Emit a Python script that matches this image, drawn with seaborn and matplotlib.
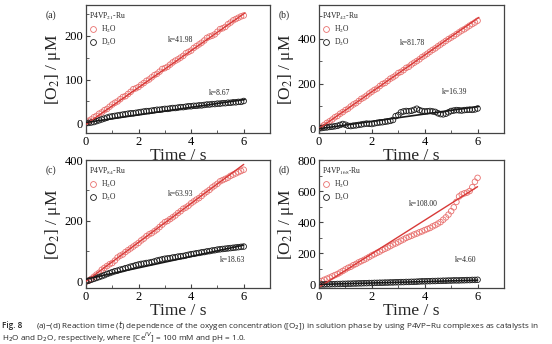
import numpy as np
import pandas as pd
import matplotlib
matplotlib.use("Agg")
import matplotlib.pyplot as plt
from matplotlib.lines import Line2D
from matplotlib.ticker import MultipleLocator
import seaborn as sns

# ---------------- data ----------------
T = [0.0, 0.1, 0.2, 0.3, 0.4, 0.5, 0.6, 0.7, 0.8, 0.9,
     1.0, 1.1, 1.2, 1.3, 1.4, 1.5, 1.6, 1.7, 1.8, 1.9,
     2.0, 2.1, 2.2, 2.3, 2.4, 2.5, 2.6, 2.7, 2.8, 2.9,
     3.0, 3.1, 3.2, 3.3, 3.4, 3.5, 3.6, 3.7, 3.8, 3.9,
     4.0, 4.1, 4.2, 4.3, 4.4, 4.5, 4.6, 4.7, 4.8, 4.9,
     5.0, 5.1, 5.2, 5.3, 5.4, 5.5, 5.6, 5.7, 5.8, 5.9, 6.0]

a_h2o = [3, 6, 9, 14, 17, 22, 25, 30, 33, 38,
         43, 47, 50, 55, 60, 62, 67, 72, 78, 80,
         83, 88, 92, 97, 100, 105, 110, 113, 118, 124,
         126, 129, 134, 139, 143, 146, 150, 154, 160, 163,
         166, 172, 176, 180, 184, 189, 195, 198, 200, 203,
         209, 215, 217, 220, 226, 230, 235, 238, 241, 244, 246]
a_d2o = [0, 1, 2, 3, 5, 7, 9, 11, 13, 15,
         16, 17, 18, 19, 20, 21, 22, 23, 23, 24,
         25, 26, 27, 28, 28, 29, 30, 31, 31, 32,
         33, 33, 34, 35, 35, 36, 37, 37, 38, 39,
         39, 40, 40, 41, 41, 42, 43, 43, 44, 44,
         45, 45, 46, 46, 47, 47, 48, 48, 49, 49, 51]
b_h2o = [2, 8, 16, 25, 32, 40, 50, 56, 66, 73,
         82, 88, 98, 107, 113, 122, 132, 138, 146, 156,
         164, 172, 178, 189, 198, 203, 212, 222, 228, 236,
         247, 252, 260, 270, 275, 285, 293, 300, 308, 318,
         325, 333, 342, 350, 357, 366, 374, 382, 390, 398,
         405, 412, 420, 428, 436, 442, 450, 458, 465, 472, 480]
b_d2o = [0, 2, 4, 5, 7, 8, 10, 12, 16, 20,
         17, 12, 11, 13, 14, 16, 18, 20, 22, 21,
         20, 23, 25, 27, 28, 30, 32, 34, 38, 55,
         60, 72, 76, 78, 77, 79, 83, 88, 82, 78,
         76, 77, 78, 76, 74, 68, 64, 63, 66, 72,
         78, 80, 82, 81, 80, 82, 83, 84, 83, 85, 89]
c_h2o = [0, 4, 10, 17, 24, 30, 40, 46, 52, 58,
         62, 70, 80, 86, 90, 98, 104, 110, 116, 122,
         128, 136, 142, 150, 156, 160, 166, 172, 180, 188,
         196, 200, 206, 212, 218, 226, 232, 240, 244, 250,
         258, 264, 270, 275, 282, 290, 296, 302, 310, 316,
         322, 330, 334, 338, 342, 348, 352, 356, 360, 364, 368]
c_d2o = [2, 4, 7, 10, 13, 16, 19, 22, 26, 29,
         32, 35, 37, 40, 42, 45, 47, 50, 52, 55,
         57, 59, 60, 62, 63, 65, 67, 70, 72, 74,
         76, 77, 78, 80, 81, 83, 84, 85, 87, 89,
         91, 92, 94, 95, 97, 98, 100, 101, 103, 104,
         106, 107, 108, 109, 110, 111, 112, 113, 114, 115, 116]
d_h2o = [10, 20, 28, 35, 42, 50, 58, 65, 75, 85,
         95, 105, 112, 122, 130, 140, 148, 156, 165, 175,
         185, 193, 202, 210, 220, 228, 236, 245, 255, 262,
         270, 280, 288, 298, 305, 312, 320, 326, 334, 340,
         348, 355, 362, 372, 380, 390, 400, 415, 430, 448,
         470, 495, 530, 565, 578, 585, 590, 600, 625, 660, 685]
d_d2o = [-3, -2, -2, -1, -1, 0, 0, 1, 1, 2,
         2, 3, 3, 4, 4, 5, 5, 6, 6, 7,
         7, 8, 8, 9, 9, 10, 10, 11, 11, 12,
         12, 13, 13, 14, 14, 15, 15, 16, 17, 18,
         18, 19, 19, 20, 20, 21, 21, 22, 22, 23,
         23, 24, 24, 24, 25, 25, 26, 26, 27, 27, 28]

panel_letters = ["(a)", "(b)", "(c)", "(d)"]
polymer_n = ["21", "42", "84", "168"]
h2o_series = [a_h2o, b_h2o, c_h2o, d_h2o]
d2o_series = [a_d2o, b_d2o, c_d2o, d_d2o]
k_h2o = [41.98, 81.78, 63.93, 108.00]
b_fit_h2o = [-2, 0, 2, -20]
k_d2o = [8.67, 16.39, 18.63, 4.60]
b_fit_d2o = [2, -1, 9, -2]
fit_t = [[0.0, 6.05], [0.0, 6.05], [0.0, 6.0], [0.05, 6.0]]
y_limits = [(-22, 270), (-20, 550), (-20, 400), (-25, 800)]
y_major = [100, 200, 200, 200]
y_minor = [50, 100, 100, 100]
k_pos_h2o = [(3.1, 191), (3.06, 380), (3.1, 290), (3.4, 517)]
k_pos_d2o = [(4.66, 69), (4.64, 161), (5.1, 72), (5.13, 157)]

# ---------------- style ----------------
sns.set_theme(style="white")
plt.rcParams["font.family"] = ["Liberation Serif", "DejaVu Serif"]
plt.rcParams["mathtext.fontset"] = "stix"

RED_PT = "#e8706e"
RED_LN = "#d83a38"
BLK = "#1a1a1a"
SPINE = "#444444"

W, H = 552, 344
fig = plt.figure(figsize=(W / 100, H / 100), dpi=100)

boxes = [(86, 5, 270, 133), (319, 5, 504, 133),
         (86, 160, 270, 288), (319, 160, 504, 288)]

for i in range(4):
    l, t, r, b = boxes[i]
    ax = fig.add_axes([l / W, 1 - b / H, (r - l) / W, (b - t) / H])
    df = pd.DataFrame({"t": T, "h2o": h2o_series[i], "d2o": d2o_series[i]})
    sns.scatterplot(data=df, x="t", y="h2o", ax=ax, marker="o", s=16,
                    facecolors="none", edgecolor=RED_PT, linewidth=0.6, zorder=2)
    sns.scatterplot(data=df, x="t", y="d2o", ax=ax, marker="o", s=16,
                    facecolors="none", edgecolor=BLK, linewidth=0.6, zorder=2)
    tt = np.array(fit_t[i])
    ax.plot(tt, k_h2o[i] * tt + b_fit_h2o[i], color=RED_LN, lw=1.0, zorder=3)
    ax.plot(tt, k_d2o[i] * tt + b_fit_d2o[i], color=BLK, lw=1.2, zorder=3)

    ax.set_xlim(0, 7)
    ax.set_ylim(*y_limits[i])
    ax.xaxis.set_major_locator(MultipleLocator(2))
    ax.xaxis.set_minor_locator(MultipleLocator(1))
    ax.yaxis.set_major_locator(MultipleLocator(y_major[i]))
    ax.yaxis.set_minor_locator(MultipleLocator(y_minor[i]))
    ax.set_xticks([0, 2, 4, 6])
    ax.tick_params(which="both", direction="in", colors=SPINE, labelcolor="black",
                   labelsize=9, bottom=True, left=True, top=False, right=False, pad=2)
    ax.tick_params(which="major", length=3, width=0.8)
    ax.tick_params(which="minor", length=2, width=0.6)
    for sp in ax.spines.values():
        sp.set_color(SPINE)
        sp.set_linewidth(0.9)
    ax.set_xlabel("Time / s", fontsize=12.5, labelpad=0)
    ax.set_ylabel("[O$_2$] / μM", fontsize=12.5, labelpad=1)

    ax.text(k_pos_h2o[i][0], k_pos_h2o[i][1], "k=%.2f" % k_h2o[i], fontsize=5.5,
            ha="left", va="center")
    ax.text(k_pos_d2o[i][0], k_pos_d2o[i][1], "k=%.2f" % k_d2o[i], fontsize=5.5,
            ha="left", va="center")
    ax.text(-0.19, 0.92, panel_letters[i], transform=ax.transAxes, fontsize=7,
            ha="center", va="center")

    handles = [Line2D([], [], ls="none", marker="o", ms=4.2, mfc="none",
                      mec=RED_PT, mew=0.6),
               Line2D([], [], ls="none", marker="o", ms=4.2, mfc="none",
                      mec=BLK, mew=0.6)]
    leg = ax.legend(handles, ["H$_2$O", "D$_2$O"],
                    title="P4VP$_{%s}$-Ru" % polymer_n[i],
                    loc="upper left", bbox_to_anchor=(0.005, 0.975),
                    frameon=False, fontsize=5.5, title_fontsize=5.5,
                    handlelength=1.0, handletextpad=0.6, labelspacing=0.25,
                    borderpad=0.2, borderaxespad=0.1, alignment="left")

# ---------------- caption ----------------
cap_font = ["Open Sans", "DejaVu Sans"]
cap_size = 5.85
fig.text(2 / W, 1 - 325 / H, "Fig. 8", fontsize=cap_size, family=cap_font,
         weight="semibold", va="center", ha="left", math_fontfamily="dejavusans")
fig.text(36 / W, 1 - 325 / H,
         "(a)\u2212(d) Reaction time ($t$) dependence of the oxygen concentration ([O$_2$]) "
         "in solution phase by using P4VP\u2212Ru complexes as catalysts in",
         fontsize=cap_size, family=cap_font, va="center", ha="left",
         math_fontfamily="dejavusans")
fig.text(2 / W, 1 - 338 / H,
         "H$_2$O and D$_2$O, respectively, where [Ce$^{IV}$] = 100 mM and pH = 1.0.",
         fontsize=cap_size, family=cap_font, va="center", ha="left",
         math_fontfamily="dejavusans")

fig.savefig("out.png", dpi=100)
